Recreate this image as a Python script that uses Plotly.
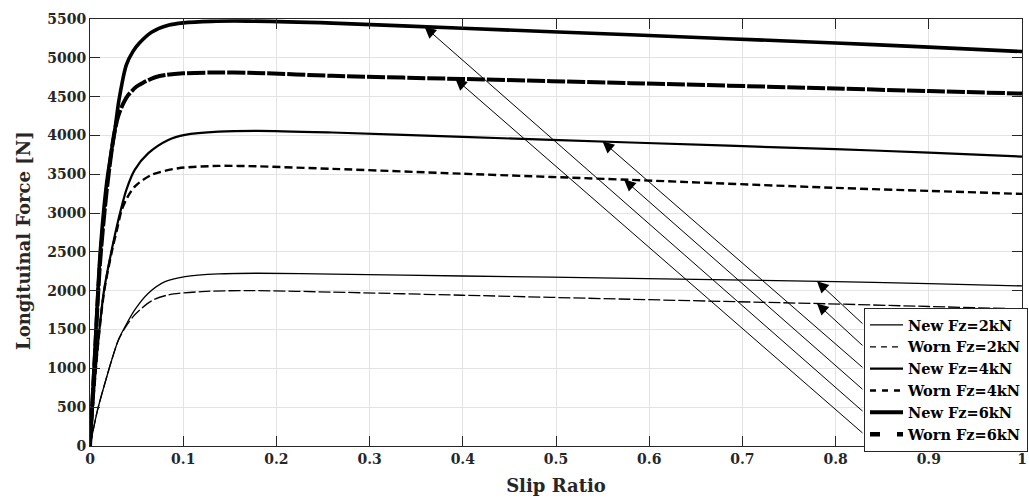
import numpy as np
import plotly.graph_objects as go

# ---- Longitudinal force vs slip ratio, new vs worn tyre at three loads ----
slip_new2 = [0, 0.008, 0.016, 0.0233, 0.0304, 0.0376, 0.048, 0.0626, 0.0805, 0.102, 0.138, 0.18, 0.26, 0.40, 0.58, 0.80, 0.90, 1.0]
force_new2 = [0, 460, 808, 1108, 1366, 1537, 1753, 1968, 2117, 2182, 2217, 2225, 2215, 2190, 2160, 2117, 2092, 2062]

slip_worn2 = [0, 0.008, 0.016, 0.0233, 0.0304, 0.0376, 0.048, 0.066, 0.084, 0.12, 0.17, 0.26, 0.40, 0.58, 0.79, 0.90, 1.0]
force_worn2 = [0, 460, 808, 1108, 1360, 1520, 1690, 1870, 1946, 1989, 2002, 1982, 1942, 1890, 1832, 1797, 1765]

slip_new4 = [0, 0.008, 0.015, 0.0233, 0.0304, 0.039, 0.048, 0.0626, 0.084, 0.102, 0.138, 0.18, 0.26, 0.40, 0.58, 0.80, 0.90, 1.0]
force_new4 = [0, 1240, 2000, 2526, 2912, 3299, 3557, 3772, 3943, 4008, 4050, 4060, 4038, 3981, 3909, 3823, 3780, 3728]

slip_worn4 = [0, 0.008, 0.015, 0.0233, 0.0286, 0.034, 0.040, 0.048, 0.066, 0.0948, 0.138, 0.17, 0.26, 0.40, 0.58, 0.80, 0.90, 1.0]
force_worn4 = [0, 1230, 1980, 2500, 2770, 3040, 3200, 3342, 3492, 3578, 3608, 3605, 3570, 3507, 3428, 3325, 3286, 3247]

slip_new6 = [0, 0.005, 0.0107, 0.018, 0.027, 0.031, 0.039, 0.046, 0.053, 0.066, 0.084, 0.10, 0.13, 0.17, 0.26, 0.40, 0.58, 0.80, 0.90, 1.0]
force_new6 = [0, 1150, 2450, 3400, 4100, 4450, 4910, 5080, 5190, 5330, 5420, 5450, 5470, 5473, 5447, 5380, 5297, 5190, 5138, 5081]

slip_worn6 = [0, 0.005, 0.0107, 0.018, 0.025, 0.030, 0.036, 0.041, 0.050, 0.057, 0.07, 0.082, 0.10, 0.13, 0.17, 0.26, 0.40, 0.58, 0.80, 0.90, 1.0]
force_worn6 = [0, 1100, 2350, 3300, 3950, 4240, 4420, 4520, 4630, 4680, 4750, 4780, 4800, 4810, 4808, 4768, 4727, 4674, 4605, 4571, 4540]

series_names = ["New Fz=2kN", "Worn Fz=2kN", "New Fz=4kN", "Worn Fz=4kN", "New Fz=6kN", "Worn Fz=6kN"]
# slip ratio at which each legend arrow points onto its curve
arrow_slip = [0.78, 0.78, 0.55, 0.573, 0.359, 0.392]

x_ticks = [0, 0.1, 0.2, 0.3, 0.4, 0.5, 0.6, 0.7, 0.8, 0.9, 1]
x_tick_text = ["0", "0.1", "0.2", "0.3", "0.4", "0.5", "0.6", "0.7", "0.8", "0.9", "1"]
y_ticks = list(range(0, 5501, 500))
y_tick_text = [str(v) for v in y_ticks]

# ---- styling ----
INK = "#262626"
FONT = "DejaVu Serif"
W, H = 1029, 500
M_L, M_R, M_T, M_B = 90, 7, 19, 54
Y_MAX = 5500

curves = [
    (slip_new2, force_new2, dict(width=1.3, dash="solid")),
    (slip_worn2, force_worn2, dict(width=1.3, dash="12px,3px")),
    (slip_new4, force_new4, dict(width=2.2, dash="solid")),
    (slip_worn4, force_worn4, dict(width=2.4, dash="8px,4px")),
    (slip_new6, force_new6, dict(width=3.6, dash="solid")),
    (slip_worn6, force_worn6, dict(width=4.0, dash="18px,2px")),
]
legend_lines = [
    dict(width=1.3, dash="solid"),
    dict(width=1.3, dash="6px,5px"),
    dict(width=2.4, dash="solid"),
    dict(width=2.6, dash="6px,6px"),
    dict(width=4.0, dash="solid"),
    dict(width=4.5, dash="10px,17px"),
]

fig = go.Figure()
for (xs, ys, ln), name in zip(curves, series_names):
    fig.add_trace(go.Scatter(
        x=xs, y=ys, mode="lines", name=name, showlegend=False,
        line=dict(color="black", shape="spline", smoothing=0.8, **ln),
    ))
for ln, name in zip(legend_lines, series_names):
    fig.add_trace(go.Scatter(
        x=[None], y=[None], mode="lines", name=name,
        line=dict(color="black", **ln),
    ))

# legend box geometry (pixels)
LEG_FONT = 14.5
LEG_LEFT_PX, LEG_TOP_PX = 864, 308
row_step = LEG_FONT * 1.3 + 3
leg_rows_px = [325 + i * row_step for i in range(len(series_names))]

plot_h = H - M_T - M_B
plot_w = W - M_L - M_R


def px_to_force(py):
    return (H - M_B - py) / plot_h * Y_MAX


tail_x = (LEG_LEFT_PX - M_L) / plot_w
for (xs, ys, _), s, row in zip(curves, arrow_slip, leg_rows_px):
    fig.add_annotation(
        x=s, y=float(np.interp(s, xs, ys)),
        ax=tail_x, ay=px_to_force(row), axref="x", ayref="y",
        xref="x", yref="y", text="", showarrow=True,
        arrowhead=2, arrowsize=2.3, arrowwidth=1, arrowcolor="black", standoff=0,
    )

# y-axis title placed as a rotated label
fig.add_annotation(
    text="Longituinal Force [N]", textangle=-90,
    xref="paper", yref="paper", x=(23 - M_L) / plot_w, y=(H - M_B - 241) / plot_h,
    xanchor="center", yanchor="middle", showarrow=False,
    font=dict(family=FONT, size=18, color=INK, weight="bold"),
)

axis_common = dict(
    showline=True, linecolor=INK, linewidth=1, mirror="allticks",
    ticks="inside", ticklen=10, tickcolor=INK, tickwidth=1,
    showgrid=True, gridcolor="#e3e3e3", gridwidth=1, zeroline=False,
    tickfont=dict(family=FONT, size=14, color=INK, weight="bold"),
)

fig.update_layout(
    width=W, height=H,
    margin=dict(l=M_L, r=M_R, t=M_T, b=M_B, autoexpand=False),
    paper_bgcolor="white", plot_bgcolor="white",
    font=dict(family=FONT, color=INK, weight="bold"),
    xaxis=dict(
        range=[0, 1], tickvals=x_ticks, ticktext=x_tick_text,
        title=dict(text="Slip Ratio", font=dict(family=FONT, size=18, color=INK, weight="bold"), standoff=13),
        **axis_common,
    ),
    yaxis=dict(
        range=[0, Y_MAX], tickvals=y_ticks, ticktext=y_tick_text,
        **axis_common,
    ),
    legend=dict(
        x=tail_x, y=(H - M_B - LEG_TOP_PX) / plot_h, xanchor="left", yanchor="top",
        bgcolor="white", bordercolor=INK, borderwidth=1,
        font=dict(family=FONT, size=LEG_FONT, color="black", weight="bold"),
        tracegroupgap=0, itemwidth=33,
    ),
)

fig.write_html("out.html")
